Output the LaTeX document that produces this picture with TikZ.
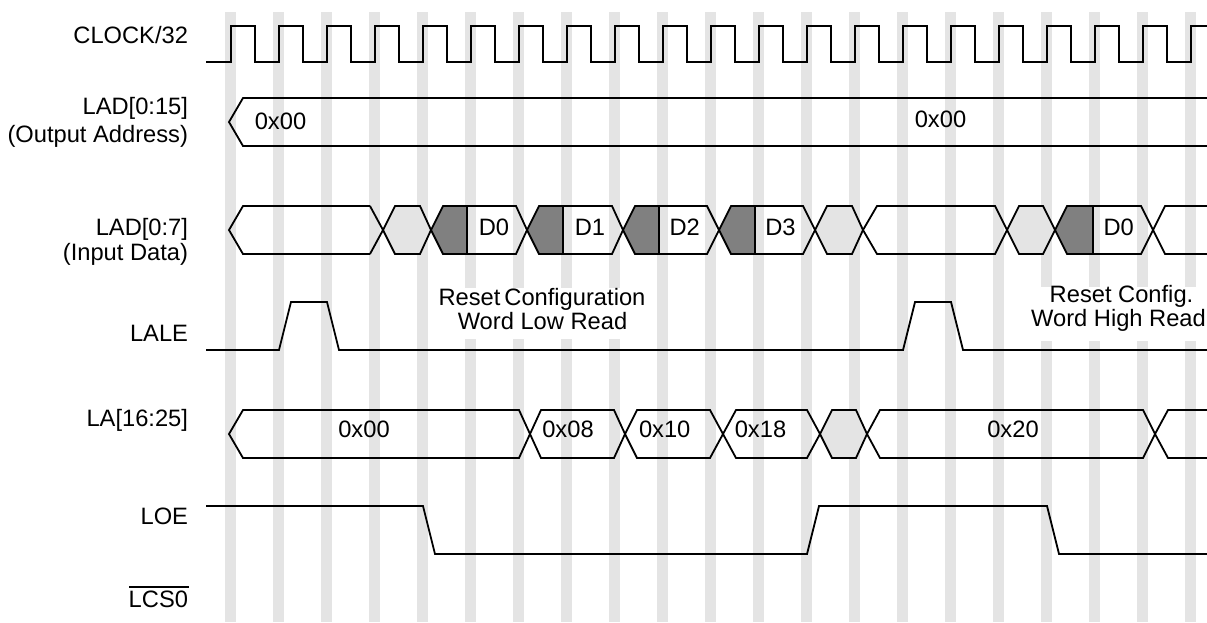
\documentclass[tikz,border=0pt]{standalone}
\usepackage{fontspec}
\setmainfont{Liberation Sans}
\definecolor{barg}{HTML}{E4E4E4}
\definecolor{barn}{HTML}{808080}
\tikzset{
  x=1pt,y=-1pt,
  wave/.style={draw=black,line width=1.8pt,line join=miter},
  lbl/.style={font=\fontsize{23.7}{28}\selectfont,inner sep=0pt,outer sep=0pt,text=black},
  siglbl/.style={lbl,anchor=base east},
  midlbl/.style={lbl,anchor=base},
  grayseg/.style={fill=barg,draw=black,line width=1.8pt},
  darkseg/.style={fill=barn,draw=black,line width=1.8pt},
}
\begin{document}
\begin{tikzpicture}
\useasboundingbox (0,0) rectangle (1207,622);
\fill[white] (0,0) rectangle (1207,622);
% time grid
\foreach \k in {0,...,20}{
  \fill[barg] ({225+48*\k},12) rectangle ++(11,610);
}
% white-outs behind notes
\fill[white] (440,288) rectangle (650,339);
\fill[white] (1030,287) rectangle (1207,341);
% clock
\draw[wave] (206,62) -- (231,62)
 \foreach \k in {0,...,19}{ -- ({231+48*\k},26) -- ({255+48*\k},26) -- ({255+48*\k},62) -- ({279+48*\k},62) }
 -- (1191,26) -- (1207,26);
\draw[wave] (1207,98) -- (243,98) -- (229,122) -- (243,146) -- (1207,146);
% LAD 0:7
\draw[wave] (370,206) -- (243,206) -- (229,230) -- (243,254) -- (370,254);
\draw[grayseg] (383,230) -- (395,206) -- (420,206) -- (431,230) -- (420,254) -- (395,254) -- cycle;
\draw[wave] (370,206) -- (383,230) -- (370,254);
\foreach \c/\d/\e/\n in {431/467/516/527,527/563/612/623,623/659/707/719,719/755/803/815,1055/1093/1141/1153}{
  \path[darkseg] (\c,230) -- (\c+12,206) -- (\d,206) -- (\d,254) -- (\c+12,254) -- cycle;
  \draw[wave] (\d,206) -- (\e,206) -- (\n,230) -- (\e,254) -- (\d,254);
}
\draw[grayseg] (815,230) -- (827,206) -- (852,206) -- (863,230) -- (852,254) -- (827,254) -- cycle;
\draw[wave] (863,230) -- (877,206) -- (995,206) -- (1007,230) -- (995,254) -- (877,254) -- cycle;
\draw[grayseg] (1007,230) -- (1019,206) -- (1043,206) -- (1055,230) -- (1043,254) -- (1019,254) -- cycle;
\draw[wave] (1207,206) -- (1165,206) -- (1153,230) -- (1165,254) -- (1207,254);
% LALE
\draw[wave] (206,350) -- (279,350) -- (291,302) -- (327,302) -- (339,350) -- (903,350) -- (915,302) -- (951,302) -- (963,350) -- (1207,350);
% LA
\draw[wave] (519,410) -- (243,410) -- (229,434) -- (243,458) -- (519,458) -- (530,434) -- cycle;
\foreach \a/\b/\c/\d in {530/541/614/625,625/637/710/723,723/736/807/820}{
  \draw[wave] (\a,434) -- (\b,410) -- (\c,410) -- (\d,434) -- (\c,458) -- (\b,458) -- cycle;
}
\draw[grayseg] (820,434) -- (832,410) -- (856,410) -- (867,434) -- (856,458) -- (832,458) -- cycle;
\draw[wave] (867,434) -- (880,410) -- (1143,410) -- (1155,434) -- (1143,458) -- (880,458) -- cycle;
\draw[wave] (1207,410) -- (1168,410) -- (1155,434) -- (1168,458) -- (1207,458);
% LOE
\draw[wave] (206,506) -- (423,506) -- (435,554) -- (807,554) -- (819,506) -- (1047,506) -- (1059,554) -- (1207,554);
% signal labels
\node[siglbl] (clk) at (188,43.5) {CLOCK/32};
\node[siglbl] (lada) at (188,114) {LAD[0:15]};
\node[siglbl] (ladb) at (188,142) {(Output Address)};
\node[siglbl] (ladc) at (188,235.5) {LAD[0:7]};
\node[siglbl] (ladd) at (188,260.5) {(Input Data)};
\node[siglbl] (lale) at (188,341.5) {LALE};
\node[siglbl] (la) at (188,426.5) {LA[16:25]};
\node[siglbl] (loe) at (188,524) {LOE};
\node[siglbl] (lcs) at (188,607) {LCS0};
\draw[draw=black,line width=1.2pt] (129,587) -- (189,587);
% values
\node[midlbl] (v1) at (280.5,129) {0x00};
\node[midlbl] (v2) at (940.5,127) {0x00};
\node[midlbl] (d0) at (494,235) {D0};
\node[midlbl] (d1) at (590,235) {D1};
\node[midlbl] (d2) at (684.7,235) {D2};
\node[midlbl] (d3) at (780.5,235) {D3};
\node[midlbl] (d4) at (1118.7,235) {D0};
\node[midlbl] (a0) at (364,437.5) {0x00};
\node[midlbl] (a1) at (568,437.5) {0x08};
\node[midlbl] (a2) at (664.7,437.5) {0x10};
\node[midlbl] (a3) at (760.5,437.5) {0x18};
\node[midlbl] (a4) at (1013,437.5) {0x20};
\node[midlbl] (n1) at (542,305) {Reset\,Configuration};
\node[midlbl] (n2) at (542.5,329) {Word Low Read};
\node[midlbl] (n3) at (1121.5,302.7) {Reset Config.};
\node[midlbl] (n4) at (1118.5,326.7) {Word High Read};
\end{tikzpicture}
\end{document}
